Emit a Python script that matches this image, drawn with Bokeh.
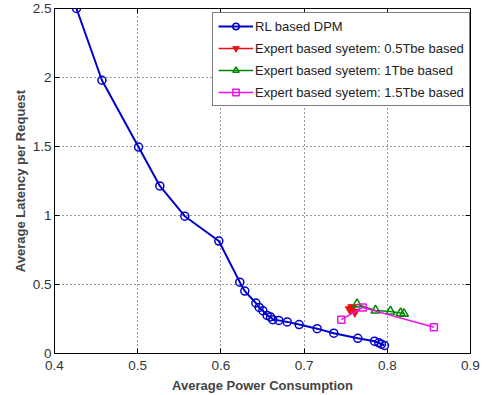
from bokeh.plotting import figure
from bokeh.models import Range1d, LinearAxis, FixedTicker, Legend, LegendItem
from bokeh.embed import file_html
from bokeh.resources import INLINE

# Data
rl_x = [0.4264, 0.457, 0.501, 0.5266, 0.5566, 0.5975, 0.6227, 0.6287, 0.642, 0.646, 0.6504,
        0.6556, 0.6596, 0.6624, 0.6696, 0.6797, 0.694, 0.7157, 0.7357, 0.7646, 0.7846,
        0.7898, 0.793, 0.7966]
rl_y = [2.5, 1.98, 1.496, 1.214, 0.995, 0.815, 0.517, 0.452, 0.366, 0.334, 0.310,
        0.276, 0.265, 0.245, 0.240, 0.229, 0.210, 0.180, 0.147, 0.110, 0.089,
        0.077, 0.067, 0.058]
e05_x = [0.755, 0.758, 0.761]
e05_y = [0.32, 0.335, 0.30]
e1_x = [0.7636, 0.7858, 0.8038, 0.816, 0.82]
e1_y = [0.358, 0.312, 0.305, 0.293, 0.288]
e15_x = [0.7447, 0.7706, 0.856]
e15_y = [0.245, 0.334, 0.19]

x_ticks = [0.4, 0.5, 0.6, 0.7, 0.8, 0.9]
y_ticks = [0, 0.5, 1, 1.5, 2, 2.5]

FONT = "Liberation Sans"

p = figure(width=487, height=395, output_backend="svg", toolbar_location=None,
           x_range=Range1d(0.4, 0.9), y_range=Range1d(0, 2.5),
           min_border_left=54, min_border_right=17, min_border_top=8, min_border_bottom=41)
p.outline_line_color = "black"
p.outline_line_width = 1

for ax in (p.xaxis[0], p.yaxis[0]):
    ax.major_tick_in = 5
    ax.major_tick_out = 0
    ax.minor_tick_line_color = None
    ax.major_label_text_font = FONT
    ax.major_label_text_font_size = "13.5px"
    ax.major_label_text_color = "#333333"
    ax.axis_label_text_font = FONT
    ax.axis_label_text_font_size = "13px"
    ax.axis_label_text_font_style = "bold"
    ax.axis_line_color = "black"
p.xaxis.ticker = FixedTicker(ticks=x_ticks)
p.yaxis.ticker = FixedTicker(ticks=y_ticks)
p.xaxis.axis_label = "Average Power Consumption"
p.yaxis.axis_label = "Average Latency per Request"
p.xaxis.axis_label_standoff = 5
p.yaxis.axis_label_standoff = 2
p.yaxis.major_label_standoff = 3
p.xaxis.major_label_standoff = 7

for loc, tk in (("above", x_ticks), ("right", y_ticks)):
    a = LinearAxis(ticker=FixedTicker(ticks=tk), major_label_overrides={t: "" for t in tk},
                   major_tick_in=5, major_tick_out=0, minor_tick_line_color=None,
                   axis_line_color="black", major_label_standoff=0)
    p.add_layout(a, loc)

p.grid.grid_line_color = "black"
p.grid.grid_line_dash = "1 3"
p.grid.grid_line_alpha = 0.8
p.xgrid.ticker = FixedTicker(ticks=x_ticks)
p.ygrid.ticker = FixedTicker(ticks=y_ticks)

blue = "#0000cc"
red = "#ee1111"
green = "#008800"
mag = "#ee11ee"

l1 = p.line(rl_x, rl_y, line_color=blue, line_width=2)
s1 = p.scatter(rl_x, rl_y, marker="circle", size=8, line_color=blue, line_width=1.5, fill_color=None)
l2 = p.line(e05_x, e05_y, line_color=red, line_width=1.5)
s2 = p.scatter(e05_x, e05_y, marker="inverted_triangle", size=9, line_color=red, fill_color=red)
l3 = p.line(e1_x, e1_y, line_color=green, line_width=1.5)
s3 = p.scatter(e1_x, e1_y, marker="triangle", size=9, line_color=green, line_width=1.5, fill_color=None)
l4 = p.line(e15_x, e15_y, line_color=mag, line_width=1.5)
s4 = p.scatter(e15_x, e15_y, marker="square", size=7, line_color=mag, line_width=1.5, fill_color=None)

legend = Legend(items=[
    LegendItem(label="RL based DPM", renderers=[l1, s1]),
    LegendItem(label="Expert based syetem: 0.5Tbe based", renderers=[l2, s2]),
    LegendItem(label="Expert based syetem: 1Tbe based", renderers=[l3, s3]),
    LegendItem(label="Expert based syetem: 1.5Tbe based", renderers=[l4, s4]),
], location=(158, 247))
legend.label_text_font = FONT
legend.label_text_font_size = "13px"
legend.label_text_color = "#222222"
legend.border_line_color = "black"
legend.border_line_width = 1
legend.background_fill_alpha = 1
legend.glyph_width = 35
legend.glyph_height = 16
legend.spacing = 6
legend.padding = 5
legend.margin = 0
legend.label_standoff = 2
legend.label_height = 16
p.add_layout(legend)

open("out.html", "w").write(file_html(p, INLINE))
